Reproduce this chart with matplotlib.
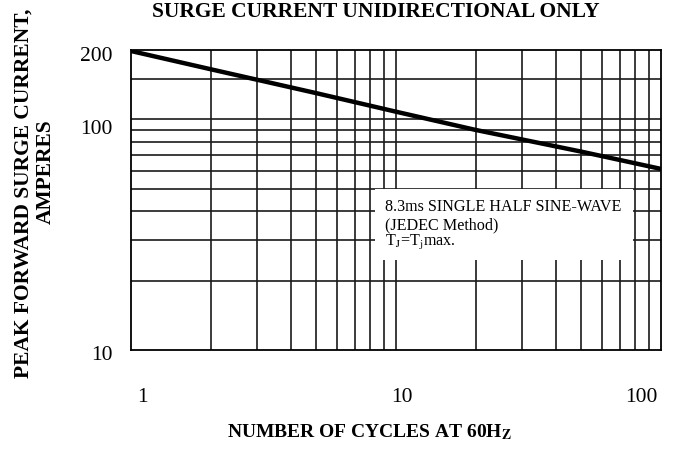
import numpy as np
import matplotlib.pyplot as plt
from matplotlib.patches import Rectangle
from matplotlib.transforms import ScaledTranslation

plt.rcParams['font.family'] = ['Liberation Serif', 'DejaVu Serif']
plt.rcParams['mathtext.fontset'] = 'stix'

# --- data ---
cycles = [1, 2, 5, 10, 20, 50, 100]
surge_current = [198, 165, 130, 108, 90, 72.5, 61]

x_grid = [2, 3, 4, 5, 6, 7, 8, 9, 10, 20, 30, 40, 50, 60, 70, 80, 90]
y_grid = [20, 30, 40, 50, 60, 70, 80, 90, 100, 150]

x_ticks = [1, 10, 100]
x_tick_labels = ['1', '10', '100']
y_ticks = [10, 100, 200]
y_tick_labels = ['10', '100', '200']

note_lines = ['8.3ms SINGLE HALF SINE-WAVE', '(JEDEC Method)', r'T$_\mathrm{J}$=T$_\mathrm{j}$max.']

# --- figure ---
fig = plt.figure(figsize=(6.93, 4.63), dpi=100)
ax = fig.add_axes([131 / 693, 1 - 350 / 463, 530 / 693, 300 / 463])
ax.set_xscale('log')
ax.set_yscale('log')
ax.set_xlim(1, 100)
ax.set_ylim(10, 200)

# grid drawn by hand (datasheet style)
for xv in x_grid:
    ax.axvline(xv, color='#1a1a1a', lw=1.2, zorder=1)
for yv in y_grid:
    ax.axhline(yv, color='#1a1a1a', lw=1.2, zorder=1)

# white note box which hides the grid
ax.add_patch(Rectangle((8.33, 24.5), 78.4 - 8.33, 50 - 24.5,
                       facecolor='white', edgecolor='none', zorder=2))

ax.plot(cycles, surge_current, color='black', lw=3.2, zorder=3,
        solid_capstyle='butt')

for i, line in enumerate(note_lines):
    ax.text(385 / 693, 1 - (207 + i * 18) / 463, line, transform=fig.transFigure,
            fontsize=11.6, va='center', ha='left', zorder=4)

for s in ax.spines.values():
    s.set_linewidth(1.3)
    s.set_zorder(5)

ax.set_xticks(x_ticks)
ax.set_xticklabels(x_tick_labels)
ax.set_yticks(y_ticks)
ax.set_yticklabels(y_tick_labels)
ax.minorticks_off()
ax.tick_params(axis='both', length=0, labelsize=15.5)
ax.tick_params(axis='x', pad=27)
ax.tick_params(axis='y', pad=13.5)

# small offsets of the printed tick labels (pixels)
x_shift = [11, 6, -20]
y_shift = [3, 8, 4]
for lab, dx in zip(ax.get_xticklabels(), x_shift):
    lab.set_transform(lab.get_transform() + ScaledTranslation(dx / 100, 0, fig.dpi_scale_trans))
for lab, dy in zip(ax.get_yticklabels(), y_shift):
    lab.set_transform(lab.get_transform() + ScaledTranslation(0, -dy / 100, fig.dpi_scale_trans))

fig.text(376 / 693, 1 - 12 / 463, 'SURGE CURRENT UNIDIRECTIONAL ONLY',
         fontsize=15.5, fontweight='bold', ha='center', va='center')
fig.text(370 / 693, 1 - 432 / 463, r'NUMBER OF CYCLES AT 60H$_\mathbf{Z}$',
         fontsize=14, fontweight='bold', ha='center', va='center')
fig.text(24 / 693, 1 - 193 / 463, 'PEAK FORWARD SURGE CURRENT,',
         fontsize=15.5, fontweight='bold', ha='center', va='center', rotation=90)
fig.text(46 / 693, 1 - 172 / 463, 'AMPERES',
         fontsize=15.5, fontweight='bold', ha='center', va='center', rotation=90)

fig.savefig('out.png', dpi=100)
